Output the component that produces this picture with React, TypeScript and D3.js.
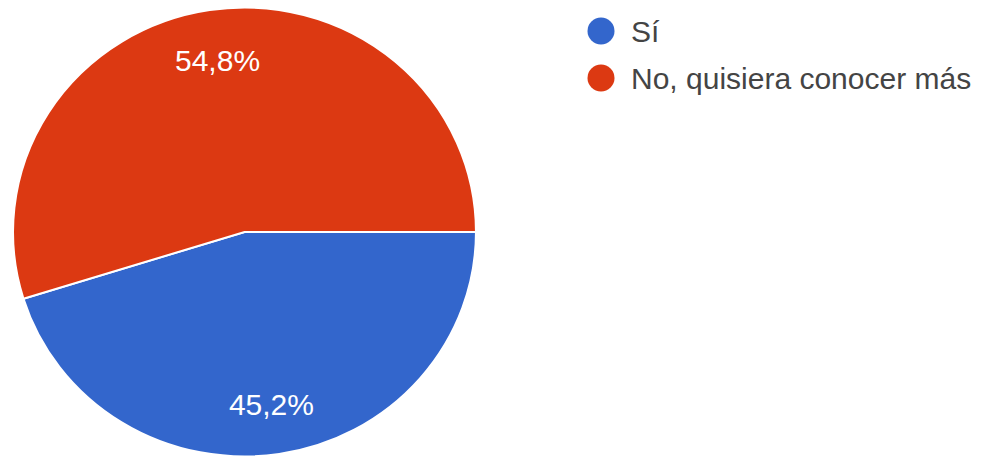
import React from "react";
import * as d3 from "d3";

const categories = ["Sí", "No, quisiera conocer más"];
const values = [45.2, 54.8];
const labels = ["45,2%", "54,8%"];
const colors = ["#3366cc", "#dc3912"];

const W = 987;
const H = 463;
const cx = 244.5;
const cy = 232;
const ry = 224.5;
const rx = 231.5;

export default function App() {
  const pie = d3
    .pie<number>()
    .sort(null)
    .startAngle(Math.PI / 2)
    .endAngle(Math.PI / 2 + 2 * Math.PI)
    .value((d) => d);
  const arcs = pie(values);
  const arc = d3.arc<d3.PieArcDatum<number>>().innerRadius(0).outerRadius(ry);
  const labelArc = d3
    .arc<d3.PieArcDatum<number>>()
    .innerRadius(ry * 0.775)
    .outerRadius(ry * 0.775);
  const sx = rx / ry;

  return (
    <svg
      width={W}
      height={H}
      style={{ position: "absolute", left: 0, top: 0, background: "#fff" }}
    >
      <g transform={`translate(${cx},${cy}) scale(${sx},1)`}>
        {arcs.map((a, i) => (
          <path key={i} d={arc(a) || ""} fill={colors[i]} stroke="#fff" strokeWidth={2} />
        ))}
      </g>
      {arcs.map((a, i) => {
        const [lx, ly] = labelArc.centroid(a);
        return (
          <text
            key={i}
            x={cx + lx * sx}
            y={cy + ly}
            dy="0.36em"
            textAnchor="middle"
            fill="#fff"
            fontFamily="Liberation Sans, Arial, sans-serif"
            fontSize={30}
          >
            {labels[i]}
          </text>
        );
      })}
      {categories.map((c, i) => (
        <g key={c} transform={`translate(601,${31 + i * 47})`}>
          <circle r={13.5} fill={colors[i]} />
          <text
            x={30}
            y={11}
            fill="#444"
            fontFamily="Liberation Sans, Arial, sans-serif"
            fontSize={30}
          >
            {c}
          </text>
        </g>
      ))}
    </svg>
  );
}
